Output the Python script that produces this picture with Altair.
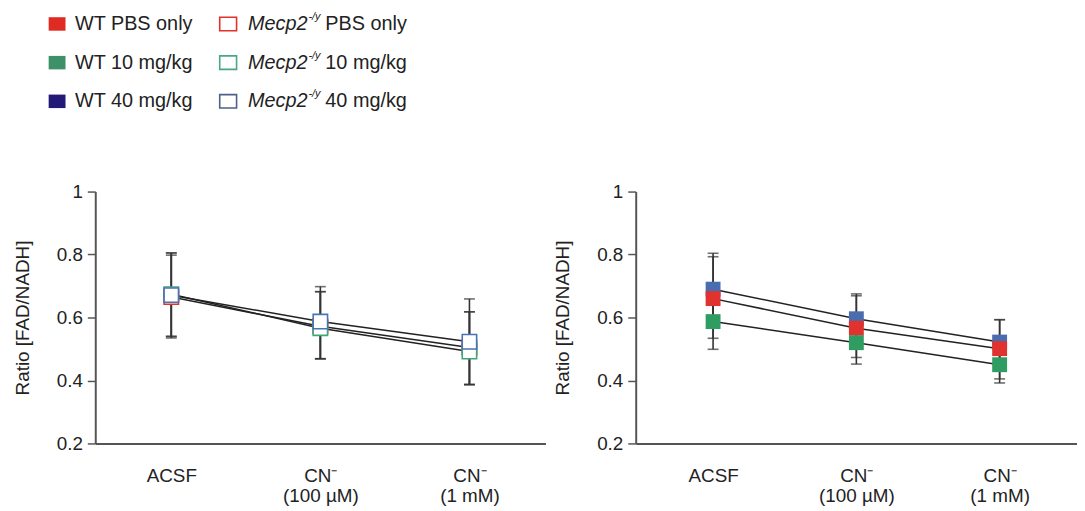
import altair as alt
import pandas as pd

FONT = "Liberation Sans"

# ---------------- data ----------------
categories = ["ACSF", "CN\u207b\n(100 \u00b5M)", "CN\u207b\n(1 mM)"]

# Left panel: Mecp2-/y (open squares)
mecp2_series = ["PBS only", "10 mg/kg", "40 mg/kg"]
mecp2_colors = ["#e0322e", "#3fa67a", "#4a72b8"]
mecp2_mean = [[0.665, 0.572, 0.505], [0.674, 0.566, 0.492], [0.671, 0.587, 0.523]]
mecp2_hi = [[0.798, 0.682, 0.618], [0.805, 0.682, 0.618], [0.805, 0.698, 0.659]]
mecp2_lo = [[0.535, 0.469, 0.387], [0.540, 0.469, 0.387], [0.540, 0.469, 0.387]]
mecp2_z = [0, 1, 2]

# Right panel: WT (filled squares)
wt_series = ["40 mg/kg", "PBS only", "10 mg/kg"]
wt_colors = ["#4a6db0", "#e0322e", "#2f9d62"]
wt_mean = [[0.690, 0.596, 0.522], [0.660, 0.566, 0.501], [0.587, 0.520, 0.450]]
wt_hi = [[0.804, 0.675, 0.593], [0.793, 0.669, 0.593], [0.670, 0.575, 0.505]]
wt_lo = [[0.576, 0.517, 0.451], [0.534, 0.473, 0.405], [0.499, 0.452, 0.392]]
wt_z = [0, 1, 2]

# Legend
leg_wt_labels = ["WT PBS only", "WT 10 mg/kg", "WT 40 mg/kg"]
leg_wt_colors = ["#e02b25", "#3d9068", "#231a78"]
leg_mecp2_rest = ["PBS only", "10 mg/kg", "40 mg/kg"]
leg_mecp2_keys = ["Mecp2 PBS only", "Mecp2 10 mg/kg", "Mecp2 40 mg/kg"]
leg_mecp2_colors = ["#e0312d", "#4aa58a", "#4f5f8e"]
leg_rows = [0, 1, 2]

y_ticks = [0.2, 0.4, 0.6, 0.8, 1.0]
y_title = "Ratio [FAD/NADH]"

# ---------------- panels ----------------
yscale = alt.Scale(domain=[0.2, 1.0], nice=False, zero=False)
yaxis = alt.Axis(values=y_ticks, format="~g", grid=False, title=y_title,
                 tickSize=8, labelPadding=5, titlePadding=24)


def Y(field):
    return alt.Y(field, type="quantitative", scale=yscale, axis=yaxis, title=y_title)


def panel(series, colors, means, his, los, zs, filled, width, pad):
    rows = []
    for s, m, h, l, z in zip(series, means, his, los, zs):
        for c, mv, hv, lv in zip(categories, m, h, l):
            rows.append(dict(cond=c, series=s, mean=mv, hi=hv, lo=lv, z=z))
    df = pd.DataFrame(rows)
    xenc = alt.X("cond:N", sort=categories,
                 scale=alt.Scale(type="point", domain=categories, padding=pad),
                 axis=alt.Axis(title=None, ticks=False, labelAngle=0,
                               labelExpr="split(datum.label, '\\n')",
                               labelPadding=23, labelLineHeight=21))
    base = alt.Chart(df).encode(x=xenc)
    rules = base.mark_rule(color="#333333", strokeWidth=1.6).encode(y=Y("lo"), y2="hi")
    cap_hi = base.mark_tick(color="#333333", size=11, thickness=1.6).encode(y=Y("hi"))
    cap_lo = base.mark_tick(color="#333333", size=11, thickness=1.6).encode(y=Y("lo"))
    lines = base.mark_line(color="#222222", strokeWidth=1.5).encode(
        y=Y("mean"), detail="series:N")
    cscale = alt.Scale(domain=series, range=colors)
    if filled:
        pts = base.mark_square(size=225, opacity=1).encode(
            y=Y("mean"), color=alt.Color("series:N", scale=cscale, legend=None),
            order=alt.Order("z:Q"))
    else:
        pts = base.mark_square(size=210, fill="white", opacity=1, strokeWidth=1.6).encode(
            y=Y("mean"), stroke=alt.Stroke("series:N", scale=cscale, legend=None),
            order=alt.Order("z:Q"))
    return alt.layer(rules, cap_hi, cap_lo, lines, pts).properties(width=width, height=254)


left = panel(mecp2_series, mecp2_colors, mecp2_mean, mecp2_hi, mecp2_lo, mecp2_z,
             False, 454, 0.51)
right = panel(wt_series, wt_colors, wt_mean, wt_hi, wt_lo, wt_z,
              True, 445, 0.54)

# ---------------- legend ----------------
leg_wt = pd.DataFrame(dict(col=0, row=leg_rows, label=leg_wt_labels))
leg_mc = pd.DataFrame(dict(col=1, row=leg_rows, rest=leg_mecp2_rest, key=leg_mecp2_keys))

lx = alt.X("col:Q", scale=alt.Scale(domain=[0.2232, 1.3826], nice=False, zero=False), axis=None)
ly = alt.Y("row:O", scale=alt.Scale(type="point", padding=0.256), axis=None)
rect_shape = "M-1,-0.8L1,-0.8L1,0.8L-1,0.8Z"

wt_sq = alt.Chart(leg_wt).mark_point(shape=rect_shape, size=289, filled=True, opacity=1).encode(
    x=lx, y=ly,
    fill=alt.Fill("label:N", scale=alt.Scale(domain=leg_wt_labels, range=leg_wt_colors), legend=None))
wt_tx = alt.Chart(leg_wt).mark_text(align="left", dx=18, fontSize=20, font=FONT, color="#222222").encode(
    x=lx, y=ly, text="label:N")
mc_sq = alt.Chart(leg_mc).mark_point(shape=rect_shape, size=289, filled=True, fill="white",
                                     strokeWidth=1.6, opacity=1).encode(
    x=lx, y=ly,
    stroke=alt.Stroke("key:N", scale=alt.Scale(domain=leg_mecp2_keys, range=leg_mecp2_colors),
                      legend=None))
mc_it = alt.Chart(leg_mc).mark_text(align="left", dx=20, fontSize=20, font=FONT, fontStyle="italic",
                                    color="#222222").encode(x=lx, y=ly, text=alt.value("Mecp2"))
mc_sup = alt.Chart(leg_mc).mark_text(align="left", dx=81, dy=-7, fontSize=11, font=FONT,
                                     fontStyle="italic", color="#222222").encode(
    x=lx, y=ly, text=alt.value("-/y"))
mc_tx = alt.Chart(leg_mc).mark_text(align="left", dx=98, fontSize=20, font=FONT, color="#222222").encode(
    x=lx, y=ly, text="rest:N")

legend = alt.layer(wt_sq, wt_tx, mc_sq, mc_it, mc_sup, mc_tx).properties(width=200, height=98)

chart = alt.vconcat(
    legend,
    alt.hconcat(left, right, spacing=8).resolve_scale(color="independent", stroke="independent"),
    spacing=71,
).resolve_scale(
    color="independent", stroke="independent", fill="independent"
).properties(
    background="white",
    padding={"left": 5, "top": 0, "right": 0, "bottom": 0},
).configure_view(stroke=None).configure_axis(
    domainColor="#555555", domainWidth=2, tickColor="#555555", tickWidth=1.5,
    labelFont=FONT, labelFontSize=19, labelColor="#222222",
    titleFont=FONT, titleFontSize=19, titleFontWeight="normal", titleColor="#222222",
)

chart.save("out.html", embed_options={"renderer": "svg", "actions": False})
